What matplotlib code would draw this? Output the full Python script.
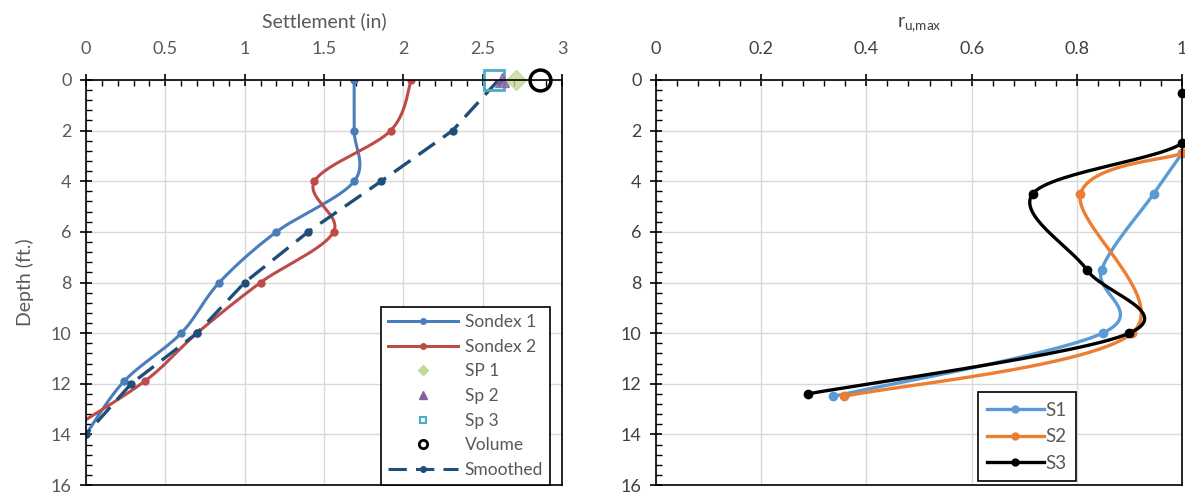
import numpy as np
import matplotlib.pyplot as plt
from matplotlib.ticker import MultipleLocator

plt.rcParams['font.family'] = ['Lato', 'DejaVu Sans']

# settlement profiles (in) vs depth (ft)
sondex1_depth = [0, 2, 4, 6, 8, 10, 11.9, 14]
sondex1 = [1.69, 1.69, 1.69, 1.20, 0.84, 0.60, 0.24, 0.0]
sondex2_depth = [0, 2, 4, 6, 8, 10, 11.9, 14]
sondex2 = [2.05, 1.92, 1.44, 1.56, 1.10, 0.70, 0.37, -0.15]
smooth_depth = [0, 2, 4, 6, 8, 10, 12, 14]
smoothed = [2.60, 2.31, 1.86, 1.40, 1.00, 0.70, 0.285, 0.0]
sp1 = [2.71, 0]
sp2 = [2.62, 0]
sp3 = [2.57, 0]
volume = [2.86, 0]

# max excess pore pressure ratio vs depth (ft)
s1_depth = [2.9, 4.5, 7.5, 10, 12.5]
s1 = [1.0, 0.946, 0.847, 0.849, 0.337]
s2_depth = [2.9, 4.5, 10, 12.5]
s2 = [1.0, 0.807, 0.905, 0.357]
s3_depth = [0.5, 2.5, 4.5, 7.5, 10, 12.4]
s3 = [1.0, 1.0, 0.716, 0.819, 0.90, 0.289]


def smooth(x, y, n=30):
    # excel-style smoothed line (catmull-rom bezier)
    pts = np.column_stack([x, y]).astype(float)
    out = []
    for i in range(len(pts) - 1):
        p0 = pts[i - 1] if i > 0 else pts[i]
        p1, p2 = pts[i], pts[i + 1]
        p3 = pts[i + 2] if i + 2 < len(pts) else pts[i + 1]
        c1 = p1 + (p2 - p0) / 6
        c2 = p2 - (p3 - p1) / 6
        t = np.linspace(0, 1, n)[:, None]
        out.append((1 - t) ** 3 * p1 + 3 * (1 - t) ** 2 * t * c1
                   + 3 * (1 - t) * t ** 2 * c2 + t ** 3 * p2)
    c = np.vstack(out)
    return c[:, 0], c[:, 1]


def style_axes(ax, xmax, xmajor, xminor, labelcolor):
    ax.set_ylim(16, 0)
    ax.set_xlim(0, xmax)
    ax.xaxis.tick_top()
    ax.xaxis.set_major_locator(MultipleLocator(xmajor))
    ax.xaxis.set_minor_locator(MultipleLocator(xminor))
    ax.yaxis.set_major_locator(MultipleLocator(2))
    ax.yaxis.set_minor_locator(MultipleLocator(0.4))
    ax.tick_params(which='major', direction='inout', length=9, width=1.2,
                   labelsize=13, labelcolor=labelcolor, color='black', pad=6)
    ax.tick_params(axis='x', which='major', pad=12)
    ax.tick_params(which='minor', direction='in', length=4, width=1.0)
    ax.grid(True, which='major', color='#d9d9d9', lw=1.0)
    ax.set_axisbelow(True)
    ax.xaxis.set_major_formatter(lambda v, p: f'{v:g}')
    for sp in ax.spines.values():
        sp.set_color('black')
        sp.set_linewidth(1.2)


fig = plt.figure(figsize=(11.85, 4.98), dpi=100)
ax1 = fig.add_axes([86 / 1185, 13 / 498, 476 / 1185, 405 / 498])
ax2 = fig.add_axes([656 / 1185, 13 / 498, 526 / 1185, 405 / 498])

style_axes(ax1, 3, 0.5, 0.1, '#595959')

xs, ys = smooth(sondex1, sondex1_depth)
ax1.plot(xs, ys, color='#4A7EBB', lw=2.2)
ax1.plot(sondex1, sondex1_depth, 'o', color='#4A7EBB', ms=5)
xs, ys = smooth(sondex2, sondex2_depth)
ax1.plot(xs, ys, color='#BE4B48', lw=2.2)
ax1.plot(sondex2, sondex2_depth, 'o', color='#BE4B48', ms=5)
ax1.plot(smoothed, smooth_depth, color='#1F4E79', lw=2.4, ls=(0, (6, 3)),
         marker='o', ms=5)
ax1.plot(sp3[0], sp3[1], 's', mfc='none', mec='#4BACC6', mew=2, ms=15, clip_on=False)
ax1.plot(sp2[0], sp2[1], '^', color='#8064A2', ms=10, clip_on=False, alpha=0.8)
ax1.plot(sp1[0], sp1[1], 'D', color='#C4D79B', ms=10, clip_on=False, alpha=0.8)
ax1.plot(volume[0], volume[1], 'o', mfc='none', mec='black', mew=2.5, ms=15, clip_on=False)

handles = [
    plt.Line2D([], [], color='#4A7EBB', lw=2.2, marker='o', ms=4),
    plt.Line2D([], [], color='#BE4B48', lw=2.2, marker='o', ms=4),
    plt.Line2D([], [], ls='none', marker='D', color='#C4D79B', ms=5),
    plt.Line2D([], [], ls='none', marker='^', color='#8064A2', ms=6),
    plt.Line2D([], [], ls='none', marker='s', mfc='none', mec='#4BACC6', mew=1.5, ms=5),
    plt.Line2D([], [], ls='none', marker='o', mfc='none', mec='black', mew=2, ms=6),
    plt.Line2D([], [], color='#1F4E79', lw=2.2, ls=(0, (6, 3)), marker='o', ms=4),
]
labels = ['Sondex 1', 'Sondex 2', 'SP 1', 'Sp 2', 'Sp 3', 'Volume', 'Smoothed']
leg = ax1.legend(handles, labels, loc='lower right', bbox_to_anchor=(0.975, 0.0),
                 fontsize=12.5, frameon=True, fancybox=False, edgecolor='black',
                 handlelength=4.0, labelspacing=0.5, borderaxespad=0, borderpad=0.4,
                 handletextpad=0.4, framealpha=1)
leg.get_frame().set_linewidth(1.2)
for t in leg.get_texts():
    t.set_color('#595959')

ax1.set_xlabel('Settlement (in)', fontsize=14, color='#595959', labelpad=10)
ax1.xaxis.set_label_position('top')
ax1.set_ylabel('Depth (ft.)', fontsize=14, color='#595959', labelpad=12)

style_axes(ax2, 1, 0.2, 0.04, '#404040')
for xv, dv, col in [(s1, s1_depth, '#5B9BD5'), (s2, s2_depth, '#ED7D31'), (s3, s3_depth, 'black')]:
    xs, ys = smooth(xv, dv)
    ax2.plot(xs, ys, color=col, lw=2.4)
    ax2.plot(xv, dv, 'o', color=col, ms=6, clip_on=False)

h2 = [plt.Line2D([], [], color=c, lw=2.4, marker='o', ms=5)
      for c in ['#5B9BD5', '#ED7D31', 'black']]
leg2 = ax2.legend(h2, ['S1', 'S2', 'S3'], loc='lower left', bbox_to_anchor=(0.612, 0.01),
                  fontsize=13.5, frameon=True, fancybox=False, edgecolor='black',
                  handlelength=3.0, labelspacing=0.5, borderaxespad=0, borderpad=0.5,
                  handletextpad=0.1, framealpha=1)
leg2.get_frame().set_linewidth(1.2)
for t in leg2.get_texts():
    t.set_color('#595959')

ax2.set_xlabel(r'$\mathregular{r_{u{,}max}}$', fontsize=14, color='#404040', labelpad=10)
ax2.xaxis.set_label_position('top')

fig.savefig('out.png', dpi=100)
